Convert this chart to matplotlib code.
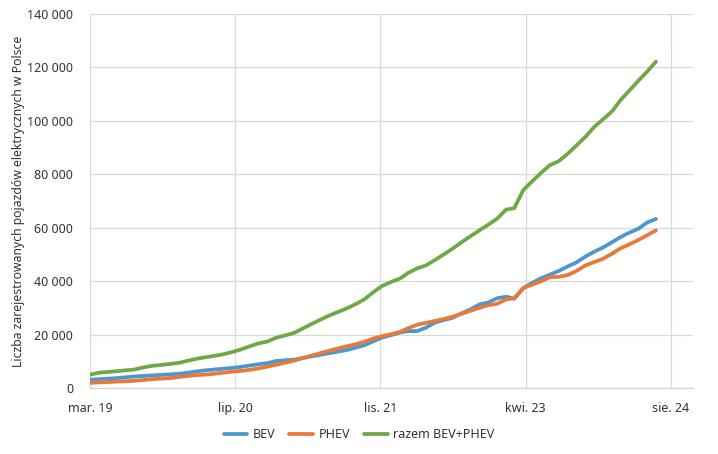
import numpy as np
import pandas as pd
import matplotlib
matplotlib.use("Agg")
import matplotlib.pyplot as plt

months = pd.date_range("2019-03-01", periods=65, freq="MS")

bev = [3100, 3300, 3500, 3700, 4000, 4300, 4500, 4700, 4900, 5100,
       5300, 5700, 6200, 6600, 6900, 7200, 7500, 7900, 8400, 8900,
       9300, 10100, 10400, 10600, 11200, 11800, 12400, 13000, 13600, 14200,
       15100, 16000, 17500, 18900, 19800, 20800, 21300, 21300, 22600, 24500,
       25400, 26300, 28000, 29400, 31300, 32000, 33600, 34200, 33400, 37400,
       39300, 41100, 42400, 43800, 45500, 47000, 49200, 51000, 52600, 54600,
       56500, 58200, 59600, 62000, 63300]

phev = [1900, 2100, 2200, 2400, 2500, 2700, 3000, 3300, 3500, 3700,
        4100, 4500, 4800, 5000, 5300, 5700, 6100, 6400, 6800, 7300,
        8000, 8700, 9500, 10200, 11100, 12100, 13000, 13900, 14800, 15600,
        16400, 17300, 18500, 19400, 20100, 21000, 22400, 23700, 24400, 25100,
        25800, 26700, 27800, 28900, 30000, 31000, 31500, 33200, 33600, 37400,
        38700, 39900, 41500, 41600, 42300, 43800, 45900, 47100, 48400, 50300,
        52300, 53800, 55400, 57200, 59000]

razem = [5000, 5700, 6000, 6300, 6600, 6900, 7700, 8300, 8600, 9000,
         9400, 10200, 10900, 11500, 12000, 12600, 13400, 14400, 15600, 16700,
         17400, 18800, 19700, 20600, 22200, 23900, 25500, 27100, 28400, 29800,
         31400, 33200, 35900, 38200, 39700, 41000, 43100, 44800, 45900, 47900,
         50000, 52200, 54600, 56800, 59000, 61100, 63400, 66800, 67300, 74100,
         77300, 80500, 83400, 84900, 87700, 90800, 94000, 97700, 100600, 103600,
         107800, 111400, 115000, 118500, 122200]

tick_labels = ["mar. 19", "lip. 20", "lis. 21", "kwi. 23", "sie. 24"]
y_ticks = [0, 20000, 40000, 60000, 80000, 100000, 120000, 140000]

plt.rcParams["font.family"] = ["Noto Sans", "DejaVu Sans"]
text_col = "#333333"

fig = plt.figure(figsize=(7.18, 4.54), dpi=100)
ax = fig.add_axes([0.1253, 0.1454, 0.8397, 0.8237])

ax.plot(months, bev, color="#4a98cf", linewidth=2.7, label="BEV", solid_capstyle="round")
ax.plot(months, phev, color="#e8793a", linewidth=2.7, label="PHEV", solid_capstyle="round")
ax.plot(months, razem, color="#6fa844", linewidth=2.7, label="razem BEV+PHEV", solid_capstyle="round")

start = pd.Timestamp("2019-03-01")
xt = [start + pd.Timedelta(days=500 * k) for k in range(5)]
ax.set_xticks(xt)
ax.set_xticklabels(tick_labels)
ax.set_xlim(start, start + pd.Timedelta(days=2076))
ax.set_ylim(0, 140000)
ax.set_yticks(y_ticks)
ax.set_yticklabels([f"{v:,}".replace(",", " ") for v in y_ticks])

ax.grid(True, color="#d9d9d9", linewidth=0.9)
ax.set_axisbelow(True)
for s in ["top", "right", "left"]:
    ax.spines[s].set_visible(False)
ax.spines["bottom"].set_color("#d0d0d0")
ax.tick_params(axis="both", length=0, labelsize=9, colors=text_col)
ax.tick_params(axis="y", pad=12)
ax.tick_params(axis="x", pad=10)

ax.set_ylabel("Liczba zarejestrowanych pojazdów elektrycznych w Polsce",
              fontsize=8.8, color=text_col)
ax.yaxis.set_label_coords(-0.108, 0.5)

fig.legend(loc="center", bbox_to_anchor=(0.5, 0.042), ncol=3, frameon=False,
           fontsize=9, handlelength=1.9, handletextpad=0.45, columnspacing=1.1,
           labelcolor=text_col)

fig.savefig("out.png", dpi=100)
